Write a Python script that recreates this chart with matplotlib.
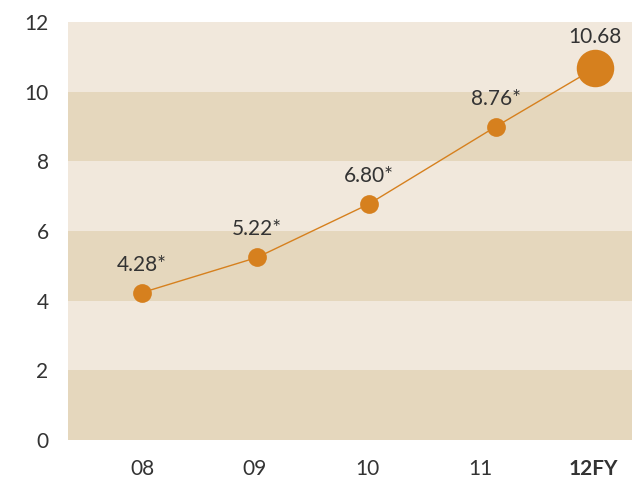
import matplotlib
matplotlib.use("Agg")
import matplotlib.pyplot as plt

# data
years = ["08", "09", "10", "11", "12FY"]
tick_pos = [0, 1, 2, 3, 4]
point_x = [0, 1.02, 2.01, 3.14, 4.02]
values = [4.23, 5.24, 6.77, 9.0, 10.68]
labels = ["4.28*", "5.22*", "6.80*", "8.76*", "10.68"]
sizes = [13.5, 13.5, 13.5, 13.5, 27]

orange = "#d6801e"
light = "#f1e8dc"
dark = "#e5d7bd"
text_col = "#333333"

plt.rcParams["font.family"] = ["Lato", "DejaVu Sans"]

fig = plt.figure(figsize=(6.32, 4.82), dpi=100)
ax = fig.add_axes([68 / 632, 42 / 482, 564 / 632, 418 / 482])

# alternating horizontal bands
for i, lo in enumerate(range(0, 12, 2)):
    ax.axhspan(lo, lo + 2, color=dark if i % 2 == 0 else light, lw=0, zorder=0)

ax.plot(point_x, values, color=orange, lw=1, zorder=2)
for x, y, s, lab in zip(point_x, values, sizes, labels):
    ax.plot(x, y, "o", ms=s, color=orange, mec="none", zorder=3)
    off = 28 if s < 20 else 31
    ax.annotate(lab, (x, y), xytext=(0, off), textcoords="offset pixels",
                ha="center", va="center", fontsize=15, color=text_col)

ax.set_xlim(-0.656, 4.346)
ax.set_ylim(0, 12)
ax.set_yticks(range(0, 13, 2))
ax.set_xticks(tick_pos)
ax.set_xticklabels(years)
for t in ax.get_xticklabels():
    if t.get_text() == "12FY":
        t.set_fontweight("bold")
ax.tick_params(length=0, labelsize=15, labelcolor=text_col)
ax.tick_params(axis="y", pad=14)
ax.tick_params(axis="x", pad=14)
for sp in ax.spines.values():
    sp.set_visible(False)

fig.savefig("out.png", dpi=100)
